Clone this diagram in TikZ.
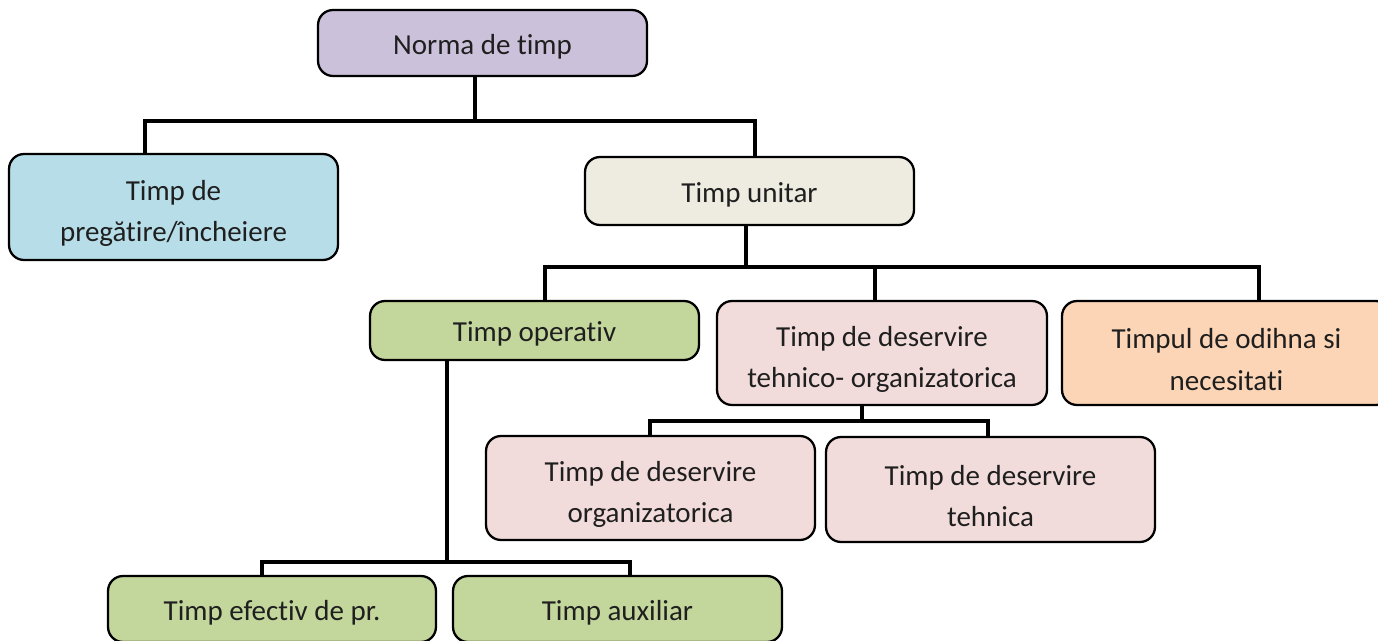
\documentclass[tikz,border=0pt]{standalone}
\usepackage{fontspec}
\setmainfont{Carlito}[Ligatures=NoCommon]
\definecolor{normafill}{HTML}{CCC1DA}
\definecolor{prepfill}{HTML}{B7DEE8}
\definecolor{unitfill}{HTML}{EEECE1}
\definecolor{opfill}{HTML}{C3D69B}
\definecolor{servfill}{HTML}{F2DCDB}
\definecolor{restfill}{HTML}{FBD5B5}
\newcommand{\topstrut}{\rule{0pt}{19pt}}
\tikzset{
  box/.style={draw=black, line width=1.3pt, rounded corners=0.3cm, align=center, inner sep=0pt,
    text=black!88, font=\fontsize{16.5}{23.5}\selectfont, minimum width=6.58cm,
    execute at begin node={\rule{0pt}{15.5pt}}},
  link/.style={draw=black, line width=1.8pt, line join=miter},
  junction/.style={coordinate}
}
\begin{document}
\begin{tikzpicture}[x=0.02cm, y=-0.02cm]
  \useasboundingbox (0,0) rectangle (1378,641);
  % boxes, placed at pixel centres
  \node[box, fill=normafill, minimum height=1.32cm] (norma) at (482.5,43) {Norma de timp};
  \node[box, fill=prepfill, minimum height=2.12cm] (prep) at (173.5,207) {\topstrut Timp de\\pregătire/încheiere};
  \node[box, fill=unitfill, minimum height=1.36cm] (unitar) at (749.5,191) {Timp unitar};
  \node[box, fill=opfill, minimum height=1.18cm] (operativ) at (534.5,330.5) {Timp operativ};
  \node[box, fill=servfill, minimum height=2.08cm, minimum width=6.6cm] (tehnorg) at (882,353) {\topstrut Timp de deservire\\tehnico- organizatorica};
  \node[box, fill=restfill, minimum height=2.08cm] (odihna) at (1226.5,353) {\topstrut Timpul de odihna si\\necesitati};
  \node[box, fill=servfill, minimum height=2.08cm] (org) at (650.5,488) {\topstrut Timp de deservire\\organizatorica};
  \node[box, fill=servfill, minimum height=2.1cm] (tehn) at (990.5,489.5) {\topstrut Timp de deservire\\tehnica};
  \node[box, fill=opfill, minimum height=1.32cm, minimum width=6.56cm] (efectiv) at (272,609) {Timp efectiv de pr.};
  \node[box, fill=opfill, minimum height=1.32cm] (auxiliar) at (617.5,609) {Timp auxiliar};

  % bus lines
  \node[junction] (j1) at (475,121) {};
  \node[junction] (j2) at (746,267) {};
  \node[junction] (j2t) at (875,267) {};
  \node[junction] (j3) at (862,421) {};
  \node[junction] (j4) at (447,562) {};

  \draw[link] (norma.south -| j1) -- (j1);
  \draw[link] (prep.north -| 145,0) |- (j1) -| (unitar.north -| 755,0);

  \draw[link] (unitar.south -| j2) -- (j2);
  \draw[link] (operativ.north -| 545,0) |- (j2) -| (odihna.north -| 1259,0);
  \draw[link] (tehnorg.north -| j2t) -- (j2t);

  \draw[link] (tehnorg.south -| j3) -- (j3);
  \draw[link] (org.north -| 650,0) |- (j3) -| (tehn.north -| 988,0);

  \draw[link] (operativ.south -| j4) -- (j4);
  \draw[link] (efectiv.north -| 262,0) |- (j4) -| (auxiliar.north -| 630,0);
\end{tikzpicture}
\end{document}
